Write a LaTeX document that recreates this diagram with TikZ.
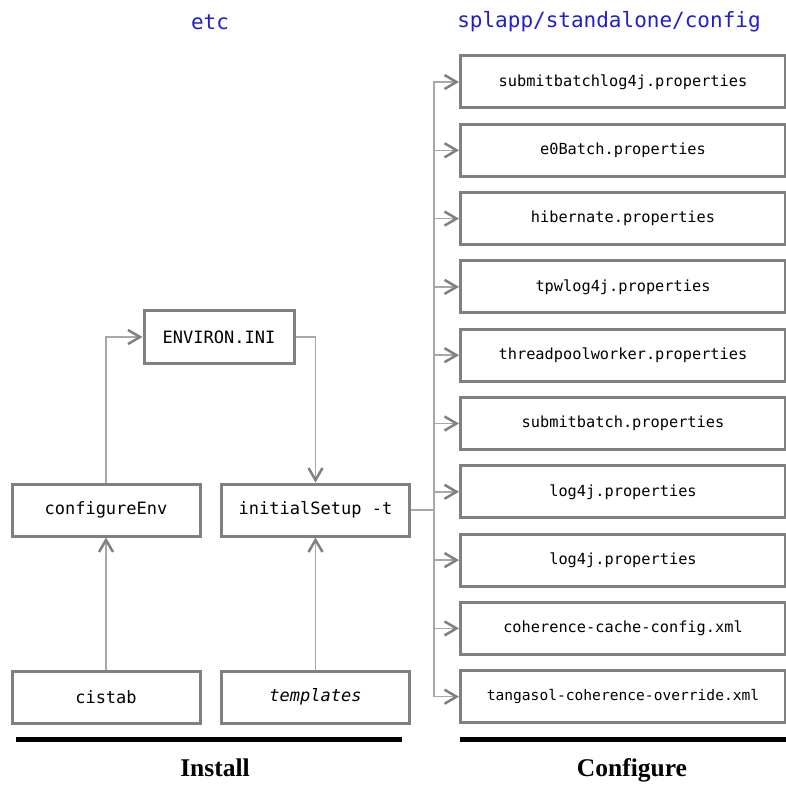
\documentclass[tikz,border=0pt]{standalone}
\usepackage{fontspec}
\setmainfont{Liberation Serif}
\setmonofont{DejaVu Sans Mono}
\usepackage{xcolor}
\definecolor{boxGray}{HTML}{808080}
\definecolor{lineGray}{HTML}{A8A8A8}
\definecolor{dirBlue}{HTML}{1F1FCC}
\usepackage{tikz}
\usetikzlibrary{
    arrows.meta,
    positioning,
    calc
}
\tikzset{
    % Base style for all boxes
    box base/.style={
        font=\ttfamily\fontsize{17}{20}\selectfont,
        align=center,
        draw=boxGray,
        line width=3pt,
        fill=white,
        rectangle,
        inner sep=0pt,
    },
    % Install side boxes
    tool/.style={
        box base,
        minimum width=188pt,
        minimum height=52pt,
    },
    % Config file boxes on the right
    filebox/.style={
        box base,
        font=\ttfamily\fontsize{15.3}{18}\selectfont,
        minimum width=325pt,
        minimum height=52pt,
    },
    % Thin gray connector with barb tip
    arrow/.style={
        -{Straight Barb[length=12pt, width=14pt, line width=2.5pt, color=boxGray]},
        line width=1.5pt,
        draw=lineGray,
    },
    % Plain connector, no tip
    link/.style={
        line width=1.5pt,
        draw=lineGray,
    },
    % Directory headers
    dirlabel/.style={
        font=\ttfamily\fontsize{21}{24}\selectfont,
        text=dirBlue,
    },
    % Phase labels under the bars
    phase/.style={
        font=\bfseries\fontsize{25.5}{30}\selectfont,
        anchor=base,
    },
    % Thick black bar
    bar/.style={
        line width=5pt,
        draw=black,
    },
}

\begin{document}
\begin{tikzpicture}[x=1pt, y=1pt, node distance=68.3pt]
    \useasboundingbox (0,0) rectangle (786,785);

    % headers
    \node (etc) [dirlabel] at (210,763) {etc};
    \node (cfgdir) [dirlabel] at (609,763) {splapp/standalone/config};

    % install side
    \node (ini) [tool, minimum width=150pt, minimum height=53pt] at (219,448) {ENVIRON.INI};
    \node (env) [tool] at (106,275) {configureEnv};
    \node (setup) [tool] at (315.5,275) {initialSetup -t};
    \node (cistab) [tool] at (106,88) {cistab};
    \node (templ) [tool] at (315.5,88) {\itshape templates};

    % configure side
    \node (f1) [filebox] at (623,703) {submitbatchlog4j.properties};
    \node (f2) [filebox, below of=f1] {e0Batch.properties};
    \node (f3) [filebox, below of=f2] {hibernate.properties};
    \node (f4) [filebox, below of=f3] {tpwlog4j.properties};
    \node (f5) [filebox, below of=f4] {threadpoolworker.properties};
    \node (f6) [filebox, below of=f5] {submitbatch.properties};
    \node (f7) [filebox, below of=f6] {log4j.properties};
    \node (f8) [filebox, below of=f7] {log4j.properties};
    \node (f9) [filebox, below of=f8] {coherence-cache-config.xml};
    \node (f10) [filebox, below of=f9, font=\ttfamily\fontsize{14.6}{18}\selectfont] {tangasol-coherence-override.xml};

    \coordinate (bus) at (434,275);

    \draw [arrow] (cistab) -- (env);
    \draw [arrow] (templ) -- (setup);
    \draw [arrow] (env.north) |- (ini.west);
    \draw [arrow] (ini.east) -| (setup.north);

    \draw [link] (setup.east) -- (bus);
    \draw [arrow] (bus) |- (f1.west);
    \draw [arrow] (bus) |- (f2.west);
    \draw [arrow] (bus) |- (f3.west);
    \draw [arrow] (bus) |- (f4.west);
    \draw [arrow] (bus) |- (f5.west);
    \draw [arrow] (bus) |- (f6.west);
    \draw [arrow] (bus) |- (f7.west);
    \draw [arrow] (bus) |- (f8.west);
    \draw [arrow] (bus) |- (f9.west);
    \draw [arrow] (bus) |- (f10.west);

    % phases
    \draw [bar] (16,46) -- (402,46);
    \draw [bar] (460,46) -- (786,46);
    \node (install) [phase] at (215,9) {Install};
    \node (configure) [phase] at (632,9) {Configure};
\end{tikzpicture}
\end{document}
